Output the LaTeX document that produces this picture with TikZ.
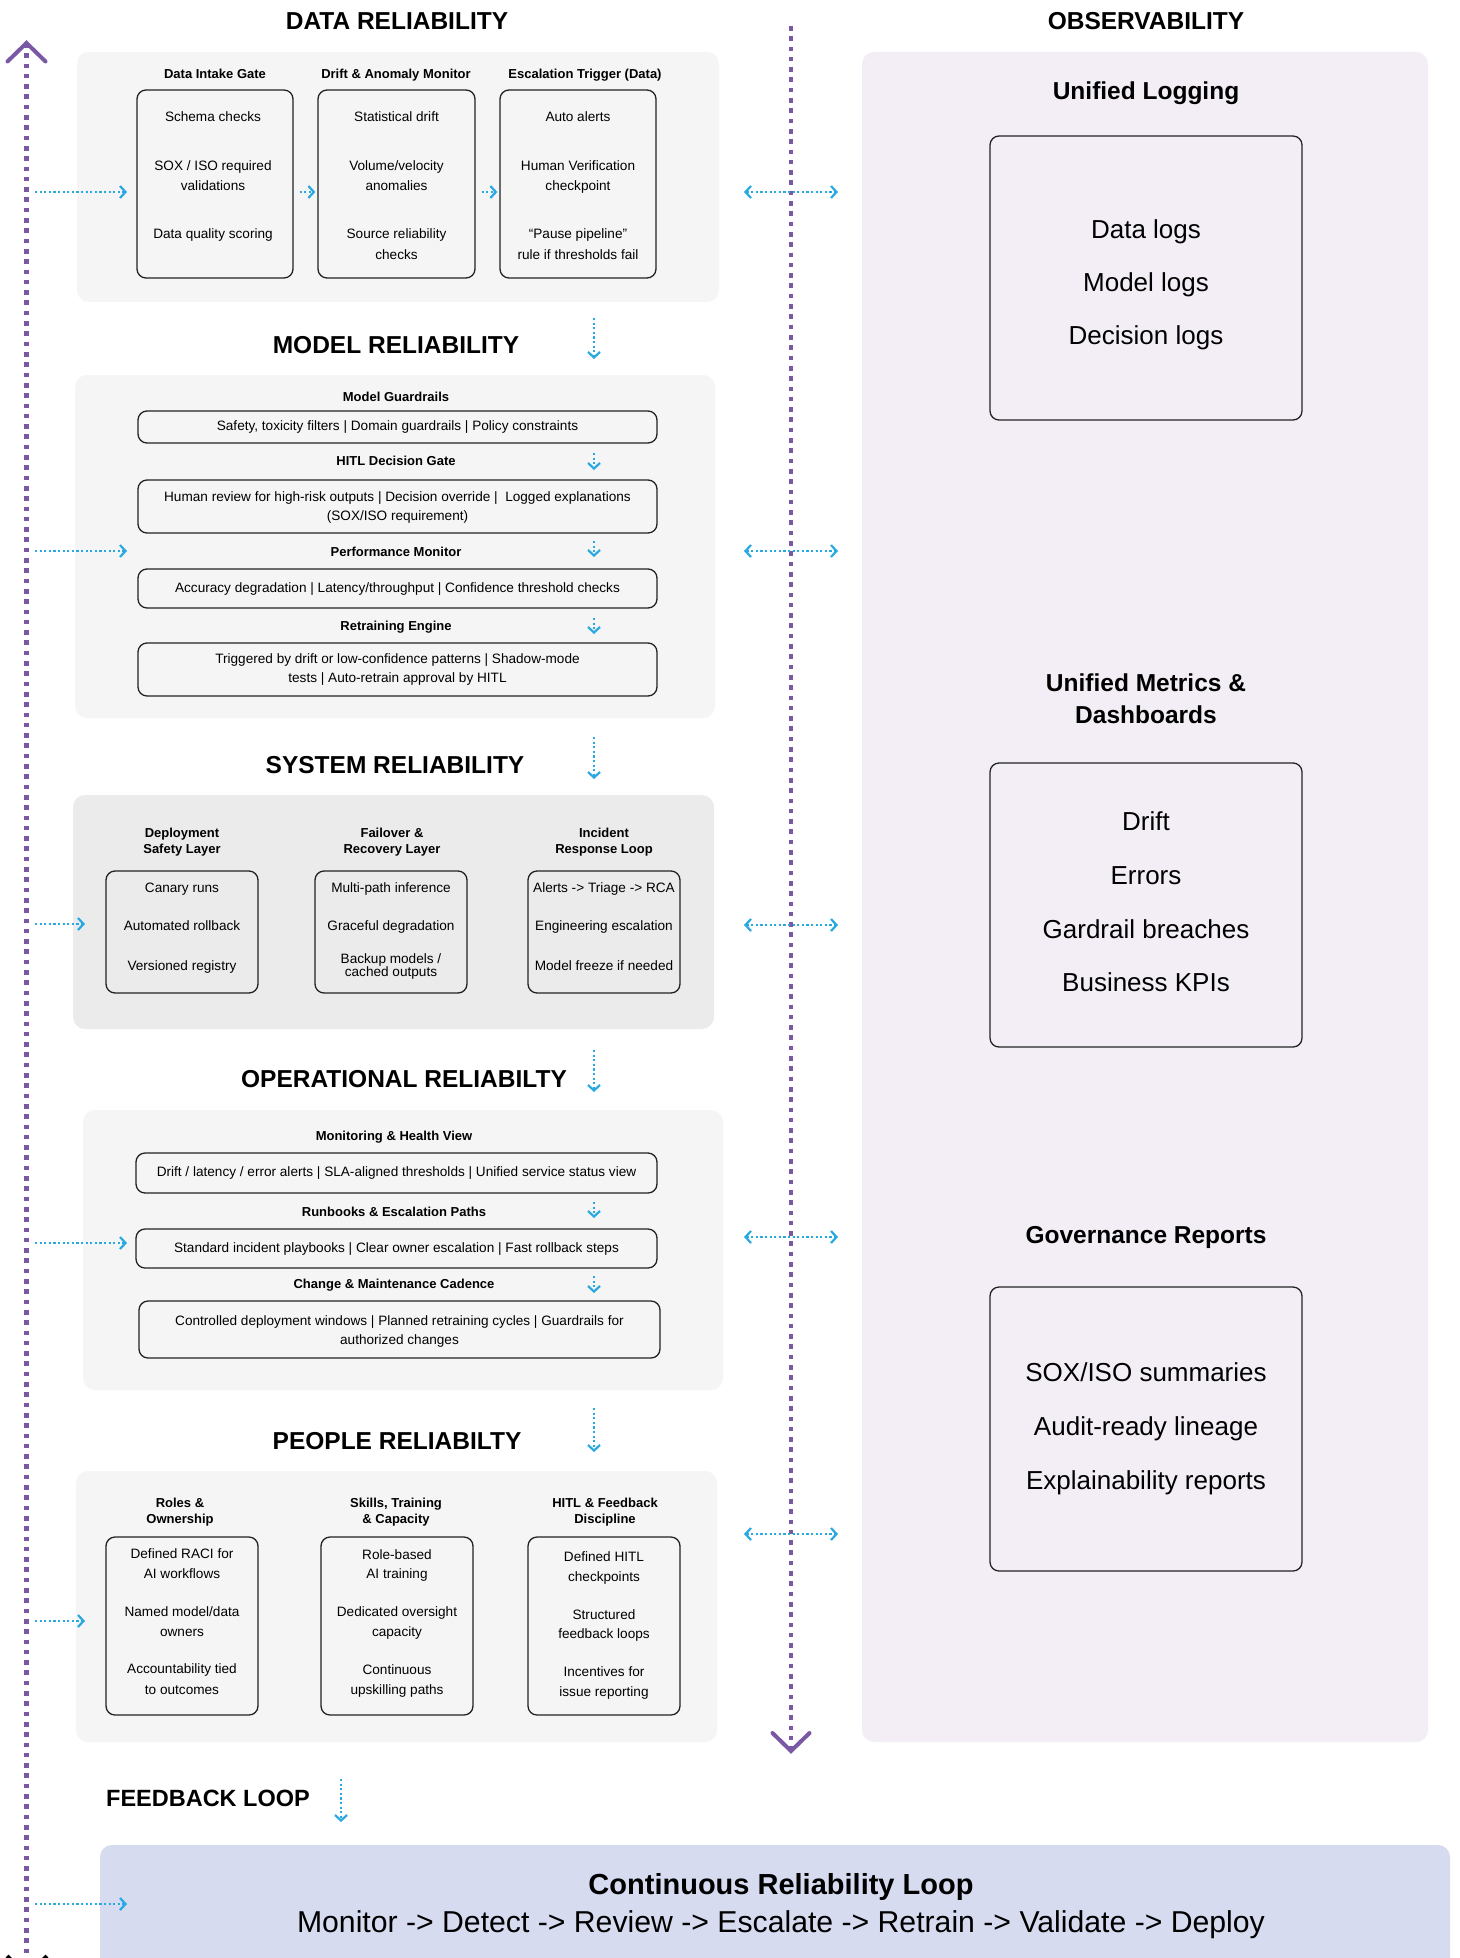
\documentclass[tikz,border=0pt]{standalone}
\usepackage{fontspec}
\setmainfont{Liberation Sans}
\usetikzlibrary{arrows.meta}
\definecolor{pgray}{HTML}{F5F5F5}
\definecolor{sgray}{HTML}{EBEBEB}
\definecolor{lav}{HTML}{F3EEF6}
\definecolor{peri}{HTML}{D6DBEF}
\definecolor{purp}{HTML}{7B58A6}
\definecolor{cyanb}{HTML}{29A9E1}
\definecolor{boxc}{HTML}{222222}
\begin{document}
\begin{tikzpicture}[x=1pt,y=-1pt,
  panel/.style={draw=none, rounded corners=12pt, inner sep=0pt},
  ibox/.style={draw=boxc, line width=1.3pt, rounded corners=9pt, inner sep=0pt},
  sect/.style={font=\bfseries\fontsize{24.5}{28}\selectfont, inner sep=0pt, text height=17.5pt, text depth=0pt},
  hdr/.style={font=\bfseries\fontsize{13}{15}\selectfont, inner sep=0pt, text height=9.4pt, text depth=2.6pt},
  txt/.style={font=\fontsize{13.6}{16}\selectfont, inner sep=0pt, text height=9.7pt, text depth=2.7pt},
  obh/.style={font=\bfseries\fontsize{24.5}{28}\selectfont, inner sep=0pt, text height=17.6pt, text depth=4.9pt},
  obt/.style={font=\fontsize{26}{30}\selectfont, inner sep=0pt, text height=18.7pt, text depth=5.2pt},
  fbt/.style={font=\bfseries\fontsize{29}{33}\selectfont, inner sep=0pt, text height=20.9pt, text depth=5.8pt},
  fbl/.style={font=\fontsize{30.2}{34}\selectfont, inner sep=0pt, text height=21.7pt, text depth=6pt},
  purpline/.style={draw=purp, line width=4.6pt, dash pattern=on 4.6pt off 5.7pt},
  barr/.style={draw=cyanb, line width=2.2pt, dash pattern=on 2.2pt off 2.4pt, -{Straight Barb[length=5.5pt,width=12pt,line width=2.2pt]}},
  dbarr/.style={draw=cyanb, line width=2.2pt, dash pattern=on 2.2pt off 2.4pt, {Straight Barb[length=5.5pt,width=12pt,line width=2.2pt]}-{Straight Barb[length=5.5pt,width=12pt,line width=2.2pt]}},
]
\useasboundingbox (0,0) rectangle (1459,1958);
\clip (0,0) rectangle (1459,1958);
\fill[white] (0,0) rectangle (1459,1958);

% ---------- panels ----------
\node[panel, fill=pgray, minimum width=642pt, minimum height=250pt] (dataP) at (398,177) {};
\node[panel, fill=pgray, minimum width=640pt, minimum height=343pt] (modelP) at (395,546.5) {};
\node[panel, fill=sgray, minimum width=641pt, minimum height=234pt] (sysP) at (393.5,912) {};
\node[panel, fill=pgray, minimum width=640pt, minimum height=280pt] (opP) at (403,1250) {};
\node[panel, fill=pgray, minimum width=641pt, minimum height=271pt] (peopleP) at (396.5,1606.5) {};
\node[panel, fill=lav, minimum width=566pt, minimum height=1690pt] (obsP) at (1145,897) {};
\node[panel, fill=peri, minimum width=1350pt, minimum height=135pt] (fbP) at (775,1912.5) {};

% ---------- section titles ----------
\node[sect] (dataT) at (397,21) {DATA RELIABILITY};
\node[sect] (obsT) at (1146,21) {OBSERVABILITY};
\node[sect] (modelT) at (396,345) {MODEL RELIABILITY};
\node[sect] (sysT) at (395,765) {SYSTEM RELIABILITY};
\node[sect] (opT) at (404,1079) {OPERATIONAL RELIABILTY};
\node[sect] (peopleT) at (397,1441) {PEOPLE RELIABILTY};
\node[sect, font=\bfseries\fontsize{23.5}{28}\selectfont] (fbT) at (208,1798) {FEEDBACK LOOP};

% ---------- data reliability ----------
\node[hdr] (dH1) at (215,75) {Data Intake Gate};
\node[hdr] (dH2) at (396,75) {Drift \& Anomaly Monitor};
\node[hdr] (dH3) at (585,75) {Escalation Trigger (Data)};
\node[ibox, minimum width=156pt, minimum height=188pt] (d1) at (215,184) {};
\node[ibox, minimum width=157pt, minimum height=188pt] (d2) at (396.5,184) {};
\node[ibox, minimum width=156pt, minimum height=188pt] (d3) at (578,184) {};
\node[txt] (d1a) at (213,118) {Schema checks};
\node[txt] (d1b) at (213,167) {SOX / ISO required};
\node[txt] (d1c) at (213,187) {validations};
\node[txt] (d1d) at (213,235) {Data quality scoring};
\node[txt] (d2a) at (396.5,118) {Statistical drift};
\node[txt] (d2b) at (396.5,167) {Volume/velocity};
\node[txt] (d2c) at (396.5,187) {anomalies};
\node[txt] (d2d) at (396.5,235) {Source reliability};
\node[txt] (d2e) at (396.5,256) {checks};
\node[txt] (d3a) at (578,118) {Auto alerts};
\node[txt] (d3b) at (578,167) {Human Verification};
\node[txt] (d3c) at (578,187) {checkpoint};
\node[txt] (d3d) at (578,235) {“Pause pipeline”};
\node[txt] (d3e) at (578,256) {rule if thresholds fail};
\draw[barr] ([xshift=6pt,yshift=-8pt]d1.east) -- ([xshift=-2pt,yshift=-8pt]d2.west);
\draw[barr] ([xshift=6pt,yshift=-8pt]d2.east) -- ([xshift=-2pt,yshift=-8pt]d3.west);

% ---------- model reliability ----------
\node[hdr] (mH1) at (396,398) {Model Guardrails};
\node[ibox, minimum width=519pt, minimum height=32pt] (m1) at (397.5,427) {};
\node[txt] (m1a) at (397.5,427) {Safety, toxicity filters | Domain guardrails | Policy constraints};
\node[hdr] (mH2) at (396,462) {HITL Decision Gate};
\node[ibox, minimum width=519pt, minimum height=53pt] (m2) at (397.5,506.5) {};
\node[txt] (m2a) at (397.5,498) {Human review for high-risk outputs | Decision override |\ \ Logged explanations};
\node[txt] (m2b) at (397.5,517) {(SOX/ISO requirement)};
\node[hdr] (mH3) at (396,553) {Performance Monitor};
\node[ibox, minimum width=519pt, minimum height=39pt] (m3) at (397.5,588.5) {};
\node[txt] (m3a) at (397.5,589) {Accuracy degradation | Latency/throughput | Confidence threshold checks};
\node[hdr] (mH4) at (396,627) {Retraining Engine};
\node[ibox, minimum width=519pt, minimum height=53pt] (m4) at (397.5,669.5) {};
\node[txt] (m4a) at (397.5,660) {Triggered by drift or low-confidence patterns | Shadow-mode};
\node[txt] (m4b) at (397.5,679) {tests | Auto-retrain approval by HITL};

% ---------- system reliability ----------
\node[hdr] (sH1a) at (182,834) {Deployment};
\node[hdr] (sH1b) at (182,850) {Safety Layer};
\node[hdr] (sH2a) at (392,834) {Failover \&};
\node[hdr] (sH2b) at (392,850) {Recovery Layer};
\node[hdr] (sH3a) at (604,834) {Incident};
\node[hdr] (sH3b) at (604,850) {Response Loop};
\node[ibox, minimum width=152pt, minimum height=122pt] (s1) at (182,932) {};
\node[ibox, minimum width=152pt, minimum height=122pt] (s2) at (391,932) {};
\node[ibox, minimum width=152pt, minimum height=122pt] (s3) at (604,932) {};
\node[txt] (s1a) at (182,889) {Canary runs};
\node[txt] (s1b) at (182,927) {Automated rollback};
\node[txt] (s1c) at (182,967) {Versioned registry};
\node[txt] (s2a) at (391,889) {Multi-path inference};
\node[txt] (s2b) at (391,927) {Graceful degradation};
\node[txt] (s2c) at (391,960) {Backup models /};
\node[txt] (s2d) at (391,973) {cached outputs};
\node[txt] (s3a) at (604,889) {Alerts -> Triage -> RCA};
\node[txt] (s3b) at (604,927) {Engineering escalation};
\node[txt] (s3c) at (604,967) {Model freeze if needed};

% ---------- operational reliability ----------
\node[hdr] (oH1) at (394,1137) {Monitoring \& Health View};
\node[ibox, minimum width=521pt, minimum height=40pt] (o1) at (396.5,1173) {};
\node[txt] (o1a) at (396.5,1173) {Drift / latency / error alerts | SLA-aligned thresholds | Unified service status view};
\node[hdr] (oH2) at (394,1213) {Runbooks \& Escalation Paths};
\node[ibox, minimum width=521pt, minimum height=39pt] (o2) at (396.5,1248.5) {};
\node[txt] (o2a) at (396.5,1249) {Standard incident playbooks | Clear owner escalation | Fast rollback steps};
\node[hdr] (oH3) at (394,1285) {Change \& Maintenance Cadence};
\node[ibox, minimum width=521pt, minimum height=57pt] (o3) at (399.5,1329.5) {};
\node[txt] (o3a) at (399.5,1322) {Controlled deployment windows | Planned retraining cycles | Guardrails for};
\node[txt] (o3b) at (399.5,1341) {authorized changes};

% ---------- people reliability ----------
\node[hdr] (pH1a) at (180,1504) {Roles \&};
\node[hdr] (pH1b) at (180,1520) {Ownership};
\node[hdr] (pH2a) at (396,1504) {Skills, Training};
\node[hdr] (pH2b) at (396,1520) {\& Capacity};
\node[hdr] (pH3a) at (605,1504) {HITL \& Feedback};
\node[hdr] (pH3b) at (605,1520) {Discipline};
\node[ibox, minimum width=152pt, minimum height=178pt] (p1) at (182,1626) {};
\node[ibox, minimum width=152pt, minimum height=178pt] (p2) at (397,1626) {};
\node[ibox, minimum width=152pt, minimum height=178pt] (p3) at (604,1626) {};
\node[txt] (p1a) at (182,1555) {Defined RACI for};
\node[txt] (p1b) at (182,1575) {AI workflows};
\node[txt] (p1c) at (182,1613) {Named model/data};
\node[txt] (p1d) at (182,1633) {owners};
\node[txt] (p1e) at (182,1670) {Accountability tied};
\node[txt] (p1f) at (182,1691) {to outcomes};
\node[txt] (p2a) at (397,1556) {Role-based};
\node[txt] (p2b) at (397,1575) {AI training};
\node[txt] (p2c) at (397,1613) {Dedicated oversight};
\node[txt] (p2d) at (397,1633) {capacity};
\node[txt] (p2e) at (397,1671) {Continuous};
\node[txt] (p2f) at (397,1691) {upskilling paths};
\node[txt] (p3a) at (604,1558) {Defined HITL};
\node[txt] (p3b) at (604,1578) {checkpoints};
\node[txt] (p3c) at (604,1616) {Structured};
\node[txt] (p3d) at (604,1635) {feedback loops};
\node[txt] (p3e) at (604,1673) {Incentives for};
\node[txt] (p3f) at (604,1693) {issue reporting};

% ---------- observability ----------
\node[obh] (obH1) at (1146,93) {Unified Logging};
\node[ibox, minimum width=312pt, minimum height=284pt] (ob1) at (1146,278) {};
\node[obt] (ob1a) at (1146,232) {Data logs};
\node[obt] (ob1b) at (1146,285) {Model logs};
\node[obt] (ob1c) at (1146,338) {Decision logs};
\node[obh] (obH2a) at (1146,685) {Unified Metrics \&};
\node[obh] (obH2b) at (1146,717) {Dashboards};
\node[ibox, minimum width=312pt, minimum height=284pt] (ob2) at (1146,905) {};
\node[obt] (ob2a) at (1146,824) {Drift};
\node[obt] (ob2b) at (1146,878) {Errors};
\node[obt] (ob2c) at (1146,932) {Gardrail breaches};
\node[obt] (ob2d) at (1146,985) {Business KPIs};
\node[obh] (obH3) at (1146,1237) {Governance Reports};
\node[ibox, minimum width=312pt, minimum height=284pt] (ob3) at (1146,1429) {};
\node[obt] (ob3a) at (1146,1375) {SOX/ISO summaries};
\node[obt] (ob3b) at (1146,1429) {Audit-ready lineage};
\node[obt] (ob3c) at (1146,1483) {Explainability reports};

% ---------- feedback loop ----------
\node[fbt] (fb1) at (781,1887) {Continuous Reliability Loop};
\node[fbl] (fb2) at (781,1925) {Monitor -> Detect -> Review -> Escalate -> Retrain -> Validate -> Deploy};

% ---------- purple spines ----------
\coordinate (Ltop) at (26.5,43);
\coordinate (Lbot) at (26.5,1975);
\coordinate (Mtop) at (791,26);
\coordinate (Mbot) at (791,1751);
\draw[purpline] (Ltop) -- (Lbot);
\draw[purpline] (Mtop) -- (Mbot);
\draw[purp, line width=4pt, line cap=round, line join=miter] (7.5,61.5) -- (Ltop) -- (45.5,61.5);
\draw[purp, line width=4pt, line cap=round, line join=miter] (772.5,1733) -- (Mbot) -- (809.5,1733);
\coordinate (Lend) at (27,1976);
\draw[black, line width=4pt] (7,1956) -- (Lend) -- (47,1956);

% ---------- double arrows across middle spine ----------
\foreach \n/\yy in {1/192,2/551,3/925,4/1237,5/1534}{
  \coordinate (xa\n) at (744,\yy);
  \coordinate (xb\n) at (838,\yy);
  \draw[dbarr] (xa\n) -- (xb\n);
}

% ---------- left arrows into panels ----------
\foreach \n/\yy/\xe in {1/192/127,2/551/127,3/924/85,4/1243/127,5/1621/85,6/1904/127}{
  \coordinate (ls\n) at (35,\yy);
  \coordinate (le\n) at (\xe,\yy);
  \draw[barr] (ls\n) -- (le\n);
}

% ---------- down arrows ----------
\foreach \n/\ya/\yb in {1/318/359,2/453/470,3/541/557,4/618/634,5/737/779,6/1050/1092,7/1202/1218,8/1276/1293,9/1408/1452}{
  \coordinate (ds\n) at (594,\ya);
  \coordinate (de\n) at (594,\yb);
  \draw[barr] (ds\n) -- (de\n);
}
\coordinate (fbs) at (341,1779);
\coordinate (fbe) at (341,1822);
\draw[barr] (fbs) -- (fbe);
\end{tikzpicture}
\end{document}
